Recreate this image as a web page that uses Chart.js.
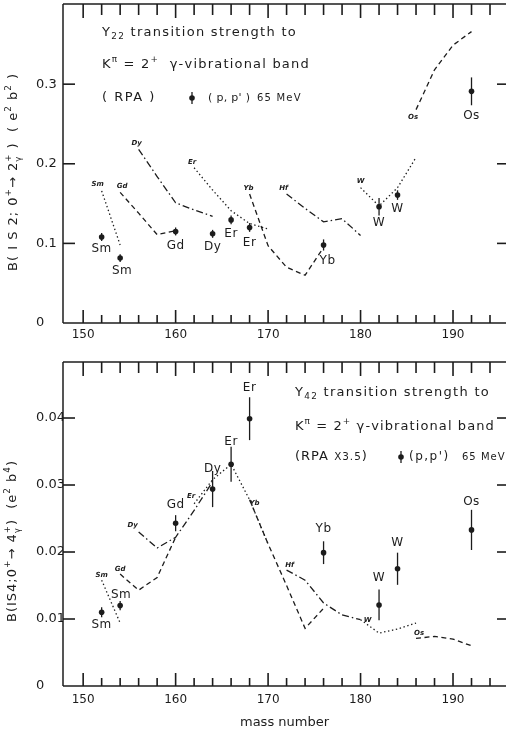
<!DOCTYPE html>
<html>
<head>
<meta charset="utf-8">
<script src="https://cdn.jsdelivr.net/npm/chart.js@4.4.1/dist/chart.umd.min.js"></script>
<style>
  html, body { margin: 0; padding: 0; background: #fff; }
  #wrap { position: relative; width: 510px; height: 733px; overflow: hidden; }
  #top { position: absolute; left: 0; top: 0; width: 510px; height: 345px; }
  #bot { position: absolute; left: 0; top: 345px; width: 510px; height: 388px; }
</style>
</head>
<body>
<div id="wrap">
  <div id="top"><canvas id="c22"></canvas></div>
  <div id="bot"><canvas id="c42"></canvas></div>
</div>
<script>
// ---- axis ticks ----
const MASS_TICKS = [150, 160, 170, 180, 190];
const MASS_MINOR_TICKS = [150, 152, 154, 156, 158, 160, 162, 164, 166, 168, 170, 172,
                          174, 176, 178, 180, 182, 184, 186, 188, 190, 192, 194];
const Y22_TICKS = [0, 0.1, 0.2, 0.3];
const Y22_TICK_LABELS = ['0', '0.1', '0.2', '0.3'];
const Y42_TICKS = [0, 0.01, 0.02, 0.03, 0.04];
const Y42_TICK_LABELS = ['0', '0.01', '0.02', '0.03', '0.04'];

// ---- (p,p') 65 MeV measurements ----
const EXP_MASS = [152, 154, 160, 164, 166, 168, 176, 182, 184, 192];
const EXP_ELEMENT = ['Sm', 'Sm', 'Gd', 'Dy', 'Er', 'Er', 'Yb', 'W', 'W', 'Os'];
const Y22_EXP = [0.108, 0.0815, 0.115, 0.112, 0.1295, 0.120, 0.098, 0.146, 0.1607, 0.291];
const Y22_ERR = [0.005, 0.005, 0.005, 0.005, 0.0055, 0.0055, 0.007, 0.011, 0.006, 0.0175];
const Y42_EXP = [0.0110, 0.0120, 0.0243, 0.0294, 0.0331, 0.0399, 0.0199, 0.0121, 0.0175, 0.0233];
const Y42_ERR = [0.00075, 0.0007, 0.0012, 0.0027, 0.0026, 0.0032, 0.0017, 0.0023, 0.0024, 0.0030];

// ---- RPA isotope chains: mass numbers ----
const SM_A = [152, 154];
const GD_A = [154, 156, 158, 160];
const DY_A = [156, 158, 160, 162, 164];
const ER_A = [162, 164, 166, 168, 170];
const YB_A = [168, 170, 172, 174, 176];
const HF_A = [172, 174, 176, 178, 180];
const W_A  = [180, 182, 184, 186];
const OS_A = [186, 188, 190, 192];

// ---- RPA B(IS2) values (e^2 b^2) ----
const SM_Y22 = [0.166, 0.098];
const GD_Y22 = [0.164, 0.138, 0.111, 0.116];
const DY_Y22 = [0.218, 0.184, 0.151, 0.142, 0.134];
const ER_Y22 = [0.195, 0.167, 0.141, 0.125, 0.118];
const YB_Y22 = [0.162, 0.097, 0.070, 0.060, 0.095];
const HF_Y22 = [0.162, 0.144, 0.127, 0.131, 0.110];
const W_Y22  = [0.170, 0.147, 0.170, 0.208];
const OS_Y22 = [0.268, 0.318, 0.349, 0.366];

// ---- RPA x3.5 B(IS4) values (e^2 b^4) ----
const SM_Y42 = [0.0158, 0.0094];
const GD_Y42 = [0.0167, 0.0143, 0.0162, 0.0222];
const DY_Y42 = [0.0230, 0.0206, 0.0222, 0.0262, 0.0305];
const ER_Y42 = [0.0272, 0.0308, 0.0331, 0.0278, 0.0212];
const YB_Y42 = [0.0278, 0.0212, 0.0150, 0.0086, 0.0116];
const HF_Y42 = [0.0173, 0.0158, 0.0124, 0.0106, 0.0099];
const W_Y42  = [0.0099, 0.0079, 0.0085, 0.0094];
const OS_Y42 = [0.0071, 0.0074, 0.0070, 0.0060];

// ---- styling ----
const INK = '#1c1c1c';
const FONT = '"DejaVu Sans", sans-serif';
const DASH = { dotted: [1.4, 2.6], dashed: [5, 3.5], dashdot: [7, 3, 1.5, 3] };
const CURVE_STYLE = { Sm: 'dotted', Gd: 'dashed', Dy: 'dashdot', Er: 'dotted', Yb: 'dashed', Hf: 'dashdot', W: 'dotted', Os: 'dashed' };
const X_MIN = 147.82, X_MAX = 195.73;

function runWidth(ctx, t, fs, spacing) {
  ctx.font = fs + 'px ' + FONT;
  ctx.letterSpacing = spacing + 'px';
  return ctx.measureText(t).width;
}

// Draws a run of text pieces with sub/superscripts; returns its width.
function drawRich(ctx, parts, x, y, size, spacing, doDraw) {
  let cx = x;
  for (const [t, kind] of parts) {
    if (kind === 'supsub') {
      const fs = size * 0.66;
      const w1 = runWidth(ctx, t[0], fs, 0);
      if (doDraw) ctx.fillText(t[0], cx, y - size * 0.38);
      const w2 = runWidth(ctx, t[1], fs, 0);
      if (doDraw) ctx.fillText(t[1], cx, y + size * 0.34);
      cx += Math.max(w1, w2) + spacing;
      continue;
    }
    let fs = size, dy = 0;
    if (kind === 'sub') { fs = size * 0.68; dy = size * 0.32; }
    else if (kind === 'sup') { fs = size * 0.68; dy = -size * 0.38; }
    else if (kind === 'small') { fs = size * 0.8; }
    const w = runWidth(ctx, t, fs, spacing);
    if (doDraw) ctx.fillText(t, cx, y + dy);
    cx += w;
  }
  return cx - x;
}

function segment(ctx, x1, y1, x2, y2) {
  ctx.beginPath();
  ctx.moveTo(x1, y1);
  ctx.lineTo(x2, y2);
  ctx.stroke();
}

function panelPlugin(cfg) {
  return {
    id: 'panel' + cfg.name,
    afterDatasetsDraw(chart) {
      const ctx = chart.ctx;
      const xs = chart.scales.x, ys = chart.scales.y;
      const a = chart.chartArea;
      ctx.save();
      ctx.strokeStyle = INK; ctx.fillStyle = INK;
      ctx.setLineDash([]);

      // frame (left, top, bottom; the right edge runs off the page)
      ctx.lineWidth = 1.5;
      segment(ctx, a.left, a.top, a.right, a.top);
      segment(ctx, a.left, a.top, a.left, a.bottom);
      segment(ctx, a.left, a.bottom, a.right, a.bottom);

      // inward ticks on all sides
      ctx.lineWidth = 1.6;
      for (const m of MASS_MINOR_TICKS) {
        const px = xs.getPixelForValue(m);
        const major = MASS_TICKS.indexOf(m) >= 0;
        segment(ctx, px, a.top, px, a.top + (major ? 14 : 11));
        segment(ctx, px, a.bottom, px, a.bottom - (major ? 13 : 8));
      }
      for (const v of cfg.yTicks) {
        if (v === 0) continue;
        const py = ys.getPixelForValue(v);
        segment(ctx, a.left, py, a.left + 12, py);
        segment(ctx, a.right, py, a.right - 9, py);
      }

      // error bars
      ctx.lineWidth = 1.3;
      EXP_MASS.forEach((m, i) => {
        const px = xs.getPixelForValue(m);
        segment(ctx, px, ys.getPixelForValue(cfg.exp[i] - cfg.err[i]), px, ys.getPixelForValue(cfg.exp[i] + cfg.err[i]));
      });

      ctx.textAlign = 'center'; ctx.textBaseline = 'middle';
      // nucleus names at the measured points
      ctx.font = '12px ' + FONT;
      ctx.letterSpacing = '0.5px';
      EXP_ELEMENT.forEach((el, i) => {
        const [dx, dy] = cfg.expLabelOffset[i];
        ctx.fillText(el, xs.getPixelForValue(EXP_MASS[i]) + dx, ys.getPixelForValue(cfg.exp[i]) + dy);
      });
      // small names at the start of each RPA chain
      ctx.font = 'bold italic 7px ' + FONT;
      ctx.letterSpacing = '0px';
      cfg.curves.forEach(([el, cx, cy]) => {
        const [dx, dy] = cfg.curveLabelOffset[el];
        ctx.fillText(el, xs.getPixelForValue(cx[0]) + dx, ys.getPixelForValue(cy[0]) + dy);
      });

      // y-axis title
      ctx.textAlign = 'left'; ctx.textBaseline = 'middle';
      ctx.save();
      ctx.translate(cfg.yTitlePos[0], cfg.yTitlePos[1]);
      ctx.rotate(-Math.PI / 2);
      const tw = drawRich(ctx, cfg.yTitle, 0, 0, 13, 1, false);
      drawRich(ctx, cfg.yTitle, -tw / 2, 0, 13, 1, true);
      ctx.restore();

      // caption block
      cfg.notes.forEach(n => drawRich(ctx, n.parts, n.x, n.y, n.size, n.sp, true));
      // legend symbol for the measurements
      const [mx, my] = cfg.marker;
      ctx.lineWidth = 1.3;
      segment(ctx, mx, my - 6, mx, my + 6);
      ctx.beginPath(); ctx.arc(mx, my, 2.8, 0, Math.PI * 2); ctx.fill();
      ctx.restore();
    }
  };
}

function buildChart(canvasId, cfg) {
  const datasets = cfg.curves.map(([el, xs, ys]) => ({
    label: 'RPA ' + el,
    data: xs.map((m, i) => ({ x: m, y: ys[i] })),
    showLine: true,
    borderColor: INK,
    borderWidth: 1.3,
    borderDash: DASH[CURVE_STYLE[el]],
    pointRadius: 0,
    tension: 0,
    fill: false
  }));
  datasets.push({
    label: "(p,p') 65 MeV",
    data: EXP_MASS.map((m, i) => ({ x: m, y: cfg.exp[i] })),
    showLine: false,
    pointRadius: 2.8,
    pointBackgroundColor: INK,
    pointBorderColor: INK,
    pointBorderWidth: 0
  });

  return new Chart(document.getElementById(canvasId), {
    type: 'scatter',
    data: { datasets },
    options: {
      responsive: true,
      maintainAspectRatio: false,
      animation: false,
      layout: { padding: { left: 36, top: cfg.padTop, right: 0, bottom: 0 } },
      plugins: { legend: { display: false }, tooltip: { enabled: false } },
      scales: {
        x: {
          type: 'linear', min: X_MIN, max: X_MAX,
          grid: { display: false, drawTicks: false },
          border: { display: false },
          afterBuildTicks: s => { s.ticks = MASS_TICKS.map(v => ({ value: v })); },
          afterFit: s => { s.height = cfg.xHeight; s.paddingLeft = 0; s.paddingRight = 0; },
          ticks: {
            autoSkip: false, maxRotation: 0, padding: cfg.xPad,
            color: INK, font: { family: FONT, size: 12 },
            callback: v => String(v)
          },
          title: cfg.xTitle
            ? { display: true, text: cfg.xTitle, color: INK, font: { family: FONT, size: 13 }, padding: { top: 0, bottom: 3 } }
            : { display: false }
        },
        y: {
          type: 'linear', min: 0, max: cfg.yMax,
          grid: { display: false, drawTicks: false },
          border: { display: false },
          afterBuildTicks: s => { s.ticks = cfg.yTicks.map(v => ({ value: v })); },
          afterFit: s => { s.width = 27; s.paddingTop = 0; s.paddingBottom = 0; },
          ticks: {
            autoSkip: false, crossAlign: 'far', padding: 0,
            color: INK, font: { family: FONT, size: 13 },
            callback: (v, i) => cfg.yLabels[i]
          }
        }
      }
    },
    plugins: [panelPlugin(cfg)]
  });
}

// upper panel: Y22 strength
buildChart('c22', {
  name: '22', padTop: 2, xHeight: 22, xPad: 5, xTitle: null,
  yMax: 0.4007, yTicks: Y22_TICKS, yLabels: Y22_TICK_LABELS,
  exp: Y22_EXP, err: Y22_ERR,
  curves: [['Sm', SM_A, SM_Y22], ['Gd', GD_A, GD_Y22], ['Dy', DY_A, DY_Y22], ['Er', ER_A, ER_Y22],
           ['Yb', YB_A, YB_Y22], ['Hf', HF_A, HF_Y22], ['W', W_A, W_Y22], ['Os', OS_A, OS_Y22]],
  expLabelOffset: [[0, 12], [2, 13], [0, 14], [0, 13], [0, 14], [0, 15], [4, 16], [0, 16], [0, 14], [0, 25]],
  curveLabelOffset: { Sm: [-4, -7], Gd: [2, -6], Dy: [-2, -6], Er: [-2, -6], Yb: [-1, -6], Hf: [-3, -6], W: [0, -6], Os: [-3, 8] },
  yTitlePos: [14, 172],
  yTitle: [['B( I S 2; 0', ''], ['+', 'sup'], ['→ 2', ''], [['+', 'γ'], 'supsub'], [' )  ( e', ''], ['2', 'sup'], [' b', ''], ['2', 'sup'], [' )', '']],
  notes: [
    { x: 102, y: 33, size: 13, sp: 1.3, parts: [['Y', ''], ['22', 'sub'], [' transition strength to', '']] },
    { x: 102, y: 65, size: 13, sp: 1.2, parts: [['K', ''], ['π', 'sup'], [' = 2', ''], ['+', 'sup'], ['  γ-vibrational band', '']] },
    { x: 102, y: 98, size: 13, sp: 1.5, parts: [['( RPA )', '']] },
    { x: 208, y: 98, size: 11, sp: 0.3, parts: [["( p, p' )", '']] },
    { x: 257, y: 98, size: 10, sp: 1.2, parts: [['65 MeV', '']] }
  ],
  marker: [192, 98]
});

// lower panel: Y42 strength
buildChart('c42', {
  name: '42', padTop: 17, xHeight: 47, xPad: 7, xTitle: 'mass number',
  yMax: 0.04836, yTicks: Y42_TICKS, yLabels: Y42_TICK_LABELS,
  exp: Y42_EXP, err: Y42_ERR,
  curves: [['Sm', SM_A, SM_Y42], ['Gd', GD_A, GD_Y42], ['Dy', DY_A, DY_Y42], ['Er', ER_A, ER_Y42],
           ['Yb', YB_A, YB_Y42], ['Hf', HF_A, HF_Y42], ['W', W_A, W_Y42], ['Os', OS_A, OS_Y42]],
  expLabelOffset: [[0, 13], [1, -11], [0, -18], [0, -20], [0, -22], [0, -31], [0, -24], [0, -27], [0, -26], [0, -28]],
  curveLabelOffset: { Sm: [0, -5], Gd: [0, -5], Dy: [-6, -7], Er: [-3, -8], Yb: [5, 3], Hf: [3, -5], W: [7, 1], Os: [3, -5] },
  yTitlePos: [13, 196],
  yTitle: [['B(IS4;0', ''], ['+', 'sup'], ['→ 4', ''], [['+', 'γ'], 'supsub'], [')  (e', ''], ['2', 'sup'], [' b', ''], ['4', 'sup'], [')', '']],
  notes: [
    { x: 295, y: 48, size: 13, sp: 1.3, parts: [['Y', ''], ['42', 'sub'], [' transition strength to', '']] },
    { x: 295, y: 82, size: 13, sp: 1.1, parts: [['K', ''], ['π', 'sup'], [' = 2', ''], ['+', 'sup'], [' γ-vibrational band', '']] },
    { x: 295, y: 112, size: 13, sp: 1, parts: [['(RPA ', ''], ['X3.5', 'small'], [')', '']] },
    { x: 409, y: 112, size: 12, sp: 1.5, parts: [["(p,p')", '']] },
    { x: 462, y: 112, size: 10, sp: 1, parts: [['65 MeV', '']] }
  ],
  marker: [401, 112]
});
</script>
</body>
</html>
